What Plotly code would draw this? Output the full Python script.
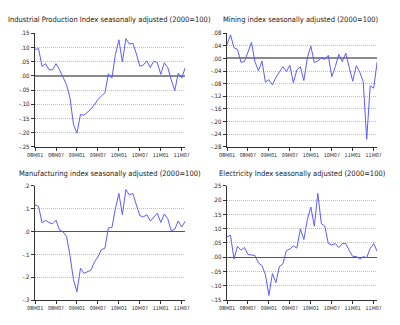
import plotly.graph_objects as go

# Monthly observations, 2008M01 .. 2011M08
months = [f"{y:02d}M{m:02d}" for y in range(8, 12) for m in range(1, 13)][:44]
month_idx = list(range(len(months)))

x_tick_vals = [0, 6, 12, 18, 24, 30, 36, 42]
x_tick_text = ["08M01", "08M07", "09M01", "09M07", "10M01", "10M07", "11M01", "11M07"]

industrial = [0.093, 0.096, 0.033, 0.043, 0.022, 0.021, 0.043, 0.022, -0.005, -0.030,
              -0.077, -0.172, -0.202, -0.136, -0.139, -0.128, -0.117, -0.102, -0.083, -0.071,
              -0.060, 0.007, -0.008, 0.075, 0.127, 0.049, 0.131, 0.112, 0.115, 0.078,
              0.034, 0.038, 0.053, 0.029, 0.052, 0.046, 0.005, 0.046, 0.029, -0.014,
              -0.052, 0.010, -0.008, 0.029]

mining = [0.044, 0.075, 0.034, 0.029, -0.012, -0.010, 0.020, 0.051, -0.010, -0.039,
          -0.008, -0.075, -0.067, -0.084, -0.060, -0.041, -0.026, -0.041, -0.022, -0.077,
          -0.036, -0.026, -0.070, 0.002, 0.039, -0.013, -0.008, 0.002, -0.003, 0.010,
          -0.058, -0.026, 0.013, -0.010, 0.017, -0.029, -0.072, -0.023, -0.043, -0.074,
          -0.256, -0.087, -0.094, -0.010]

manufacturing = [0.117, 0.110, 0.039, 0.049, 0.039, 0.034, 0.050, 0.007, -0.001, -0.021,
                 -0.104, -0.211, -0.264, -0.161, -0.183, -0.176, -0.169, -0.133, -0.111, -0.079,
                 -0.073, 0.017, 0.017, 0.100, 0.167, 0.074, 0.184, 0.160, 0.167, 0.117,
                 0.070, 0.064, 0.074, 0.046, 0.065, 0.080, 0.040, 0.077, 0.056, 0.003,
                 0.010, 0.046, 0.020, 0.046]

electricity = [0.072, 0.077, -0.006, 0.038, 0.025, 0.034, 0.010, 0.009, 0.006, -0.020,
               -0.029, -0.061, -0.134, -0.057, -0.089, -0.032, -0.023, 0.023, 0.029, 0.040,
               0.032, 0.100, 0.062, 0.132, 0.176, 0.109, 0.224, 0.118, 0.109, 0.048,
               0.043, 0.048, 0.034, 0.048, 0.048, 0.023, 0.003, 0.003, -0.006, 0.002,
               -0.001, 0.031, 0.048, 0.020]

panels = [
    dict(title="Industrial Production Index seasonally adjusted (2000=100)", y=industrial,
         ticks=[0.15, 0.10, 0.05, 0.0, -0.05, -0.10, -0.15, -0.20, -0.25],
         labels=[".15", ".10", ".05", ".00", "-.05", "-.10", "-.15", "-.20", "-.25"],
         xdom=[0.069, 0.458], ydom=[0.551, 0.908], zc="#8a8a8a", zw=2,
         tx=0.261, ty=0.952),
    dict(title="Mining index seasonally adjusted (2000=100)", y=mining,
         ticks=[0.08, 0.04, 0.0, -0.04, -0.08, -0.12, -0.16, -0.20, -0.24, -0.28],
         labels=[".08", ".04", ".00", "-.04", "-.08", "-.12", "-.16", "-.20", "-.24", "-.28"],
         xdom=[0.565, 0.954], ydom=[0.551, 0.908], zc="#8a8a8a", zw=2,
         tx=0.756, ty=0.952),
    dict(title="Manufacturing index seasonally adjusted (2000=100)", y=manufacturing,
         ticks=[0.2, 0.1, 0.0, -0.1, -0.2, -0.3],
         labels=[".2", ".1", ".0", "-.1", "-.2", "-.3"],
         xdom=[0.069, 0.458], ydom=[0.069, 0.428], zc="#555555", zw=1,
         tx=0.263, ty=0.467),
    dict(title="Electricity Index seasonally adjusted (2000=100)", y=electricity,
         ticks=[0.25, 0.20, 0.15, 0.10, 0.05, 0.0, -0.05, -0.10, -0.15],
         labels=[".25", ".20", ".15", ".10", ".05", ".00", "-.05", "-.10", "-.15"],
         xdom=[0.565, 0.954], ydom=[0.069, 0.428], zc="#555555", zw=1,
         tx=0.760, ty=0.467),
]

FONT = "DejaVu Sans Condensed, Liberation Sans Narrow, Arial Narrow, sans-serif"
fig = go.Figure()
layout = dict(
    width=400, height=325, margin=dict(l=0, r=0, t=0, b=0),
    paper_bgcolor="white", plot_bgcolor="white", showlegend=False,
    font=dict(family=FONT, size=5, color="#222222"), annotations=[],
)

for k, p in enumerate(panels, start=1):
    xa, ya = f"x{k}" if k > 1 else "x", f"y{k}" if k > 1 else "y"
    fig.add_trace(go.Scatter(x=month_idx, y=p["y"], mode="lines", xaxis=xa, yaxis=ya,
                             line=dict(color="#5c5cff", width=1)))
    xkey = "xaxis" if k == 1 else f"xaxis{k}"
    ykey = "yaxis" if k == 1 else f"yaxis{k}"
    layout[xkey] = dict(domain=p["xdom"], anchor=ya, range=[-0.1, 43],
                        tickvals=x_tick_vals, ticktext=x_tick_text, tickangle=0,
                        showgrid=False, zeroline=False, showline=True,
                        linecolor="#333333", linewidth=1, ticks="outside",
                        ticklen=3, tickcolor="#333333", tickfont=dict(size=5.3))
    layout[ykey] = dict(domain=p["ydom"], anchor=xa, range=[p["ticks"][-1], p["ticks"][0]],
                        tickvals=p["ticks"], ticktext=p["labels"],
                        showgrid=True, gridcolor="#bdbdbd", griddash="1px,1px", gridwidth=1,
                        zeroline=True, zerolinecolor=p["zc"], zerolinewidth=p["zw"],
                        showline=True, linecolor="#333333", linewidth=1,
                        ticks="outside", ticklen=3, tickcolor="#333333",
                        tickfont=dict(size=6))
    layout["annotations"].append(dict(
        text=p["title"], xref="paper", yref="paper", showarrow=False,
        x=p["tx"], y=p["ty"], xanchor="center", yanchor="middle",
        font=dict(size=7.5, color="#222222")))

fig.update_layout(**layout)
fig.write_html("out.html")
